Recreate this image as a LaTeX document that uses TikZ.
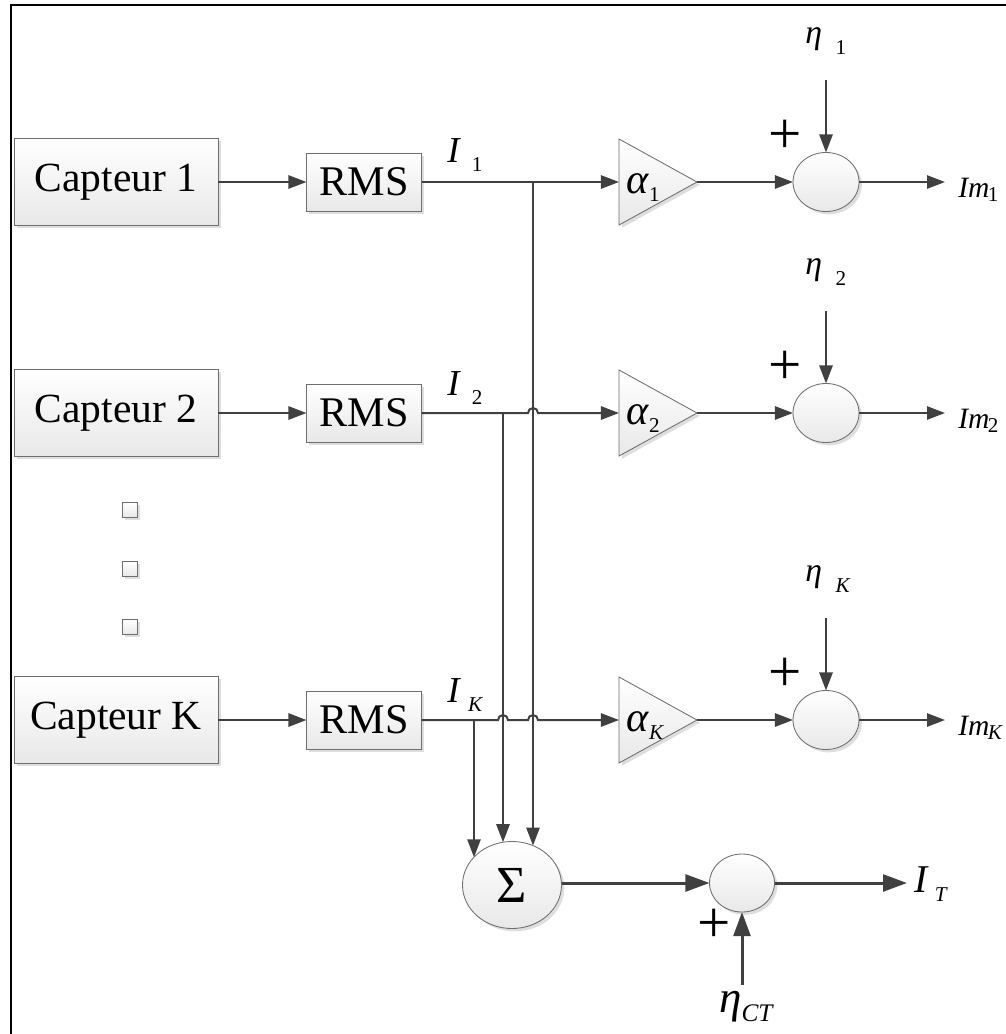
\documentclass[tikz,border=0pt]{standalone}
\usepackage{fontspec}
\setmainfont{Liberation Serif}
\usetikzlibrary{arrows.meta,shapes.geometric,shadows,calc}

\definecolor{wirecol}{HTML}{404040}
\definecolor{edgecol}{HTML}{6E6E6E}

% label with a detached subscript: main, sub, gap, drop
\newcommand{\vsub}[4]{\textit{#1}\hspace{#3}\raisebox{-#4}{\fontsize{15}{15}\selectfont #2}}

\tikzset{
  block/.style={draw=edgecol, line width=0.6pt, top color=white, bottom color=black!9,
    drop shadow={shadow xshift=2pt, shadow yshift=-2pt, fill=black!13, opacity=1},
    inner sep=0pt, outer sep=0pt},
  sensor/.style={block, minimum width=5.1cm, minimum height=2.175cm, font=\fontsize{29.5}{30}\selectfont},
  rmsbox/.style={block, minimum width=2.875cm, minimum height=1.45cm, font=\fontsize{30}{30}\selectfont},
  gain/.style={block, isosceles triangle, isosceles triangle stretches,
    minimum width=2.15cm, minimum height=1.95cm},
  adder/.style={block, ellipse, minimum width=1.65cm, minimum height=1.475cm},
  dotbox/.style={block, minimum size=0.375cm},
  wire/.style={draw=wirecol, line width=0.05cm, -{Triangle[length=0.45cm,width=0.33cm]}},
  bus/.style={draw=wirecol, line width=0.075cm, -{Triangle[length=0.6cm,width=0.42cm]}},
  lbl/.style={anchor=base west, inner sep=0pt, font=\fontsize{26}{30}\selectfont},
  plus/.style={inner sep=0pt, font=\fontsize{42}{42}\selectfont},
}

\begin{document}
\begin{tikzpicture}[x=0.025cm,y=-0.025cm]
\useasboundingbox (0,0) rectangle (1006,1034);

%frame
\draw[line width=0.05cm] (11,1034) -- (11,5) -- (1006,5);

%sensors and RMS blocks
\node[sensor] (cap1) at (116,182) {Capteur 1};
\node[sensor] (cap2) at (116,413) {Capteur 2};
\node[sensor] (capK) at (116,720) {Capteur K};
\foreach \y in {510,569,627}
  \node[dotbox] (dot\y) at (130,\y) {};

\node[rmsbox] (rms1) at (364,182) {RMS};
\node[rmsbox] (rms2) at (364,413) {RMS};
\node[rmsbox] (rmsK) at (364,720) {RMS};

\draw[wire] (cap1) -- (rms1);
\draw[wire] (cap2) -- (rms2);
\draw[wire] (capK) -- (rmsK);

%gains
\node[gain, anchor=lower side] (g1) at (619,182) {};
\node[gain, anchor=lower side] (g2) at (619,413) {};
\node[gain, anchor=lower side] (gK) at (619,720) {};
\node[lbl, font=\fontsize{30}{30}\selectfont] (a1) at (626,193) {\vsub{α}{1}{0em}{6pt}};
\node[lbl, font=\fontsize{30}{30}\selectfont] (a2) at (626,424) {\vsub{α}{2}{0em}{6pt}};
\node[lbl, font=\fontsize{30}{30}\selectfont] (aK) at (626,731) {\vsub{α}{\textit{K}}{0em}{6pt}};

%taps
\coordinate (t1) at (533,182);
\coordinate (t2) at (503,413);
\coordinate (tK) at (474,720);

\draw[wire] (rms1) -- (g1);
\draw[wire] (rms2) -- ($(t1|-rms2)+(-5,0)$) arc[start angle=180, end angle=0, radius=0.125cm] -- (g2);
\draw[wire] (rmsK) -- ($(t2|-rmsK)+(-5,0)$) arc[start angle=180, end angle=0, radius=0.125cm]
  -- ($(t1|-rmsK)+(-5,0)$) arc[start angle=180, end angle=0, radius=0.125cm] -- (gK);

\node[lbl] (I1) at (447,162) {\vsub{I}{1}{0.3em}{7pt}};
\node[lbl] (I2) at (447,395) {\vsub{I}{2}{0.3em}{7pt}};
\node[lbl] (IK) at (447,702) {\vsub{I}{\textit{K}}{0.2em}{7pt}};

%adders with noise
\foreach \r/\y/\s in {1/182/1, 2/413/2, K/720/\textit{K}} {
  \node[adder] (s\r) at (826,\y) {};
  \coordinate (e\r) at (826,\y-102);
  \coordinate (o\r) at (945,\y);
  \draw[wire] (g\r) -- (s\r);
  \draw[wire] (e\r) -- (s\r);
  \draw[wire] (s\r) -- (o\r);
  \node[lbl, font=\fontsize{24}{30}\selectfont] (n\r) at (805,\y-139) {\vsub{η}{\s}{0.4em}{8pt}};
  \node[plus] (p\r) at (785,\y-45) {+};
  \node[lbl, font=\fontsize{21}{30}\selectfont] (m\r) at (958,\y+15) {\vsub{Im}{\s}{-0.05em}{3pt}};
}

%sum of the currents
\node[adder, minimum width=2.475cm, minimum height=2.175cm, font=\fontsize{37}{38}\selectfont] (sig) at (512,885) {Σ};
\draw[wire] (t1) -- (t1 |- sig.62);
\draw[wire] (t2) -- (t2 |- sig.102);
\draw[wire] (tK) -- (tK |- sig.144);

\node[adder, minimum width=1.625cm, minimum height=1.45cm] (sT) at (742,883) {};
\coordinate (oT) at (907,883);
\coordinate (eCT) at (742,985);
\draw[bus] (sig.east |- sT) -- (sT);
\draw[bus] (sT) -- (oT);
\draw[bus] (eCT) -- (sT);
\node[lbl, font=\fontsize{28}{30}\selectfont] (IT) at (914,892) {\vsub{I}{\textit{T}}{0.15em}{7pt}};
\node[lbl, font=\fontsize{32}{30}\selectfont] (nCT) at (719,1012) {\textit{η}\raisebox{-7pt}{\fontsize{18}{18}\selectfont\textit{CT}}};
\node[plus] (pT) at (714,926) {+};

\end{tikzpicture}
\end{document}
